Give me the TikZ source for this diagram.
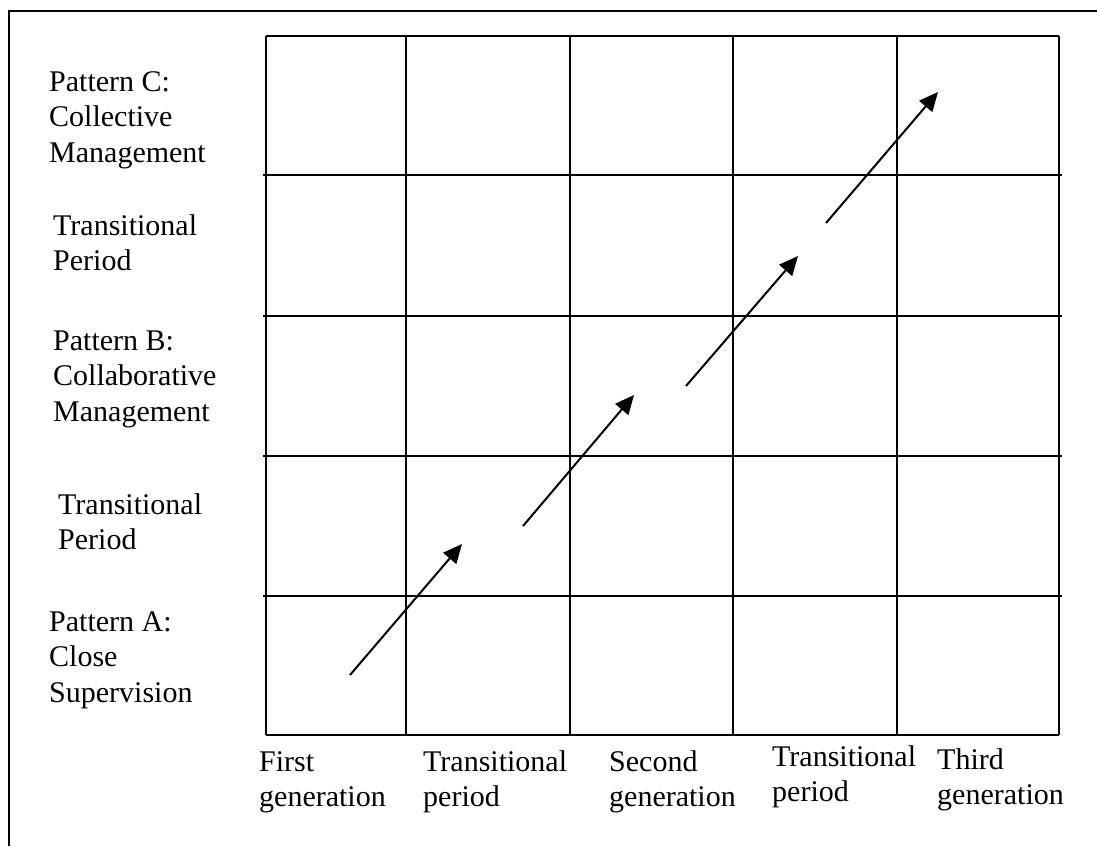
\documentclass[tikz,border=0pt]{standalone}
\usepackage{fontspec}
\setmainfont{Liberation Serif}
\usetikzlibrary{arrows.meta}
\begin{document}
\begin{tikzpicture}[x=1pt,y=-1pt,
  rule/.style={line width=2pt, black},
  txt/.style={anchor=north west, inner sep=0pt, align=left, yshift=24.85pt,
    font=\fontsize{30}{35.5}\selectfont},
  trend/.style={line width=2pt, -{Triangle[length=19pt,width=17pt]}},
]
\useasboundingbox (0,0) rectangle (1097,846);

% outer frame
\draw[rule] (9,846) -- (9,11) -- (1097,11);

% grid: columns and rows
\foreach \x in {266,406,570,733,897,1059}
  \draw[rule] (\x,36) -- (\x,735);
\draw[rule] (266,36) -- (1059,36);
\draw[rule] (266,735) -- (1059,735);
\foreach \y in {175,316,456,596}
  \draw[rule] (263,\y) -- (1062,\y);

% row labels
\node[txt] (pc) at (49,91)  {\strut Pattern C:\\Collective\\Management};
\node[txt] (t2) at (53,235) {\strut Transitional\\Period};
\node[txt] (pb) at (53,350) {\strut Pattern B:\\Collaborative\\Management};
\node[txt] (t1) at (58,514) {\strut Transitional\\Period};
\node[txt] (pa) at (49,631) {\strut Pattern A:\\Close\\Supervision};

% column labels
\node[txt] (g1) at (259,771) {\strut First\\generation};
\node[txt] (p1) at (423,771) {\strut Transitional\\period};
\node[txt] (g2) at (609,771) {\strut Second\\generation};
\node[txt] (p2) at (772,766) {\strut Transitional\\period};
\node[txt] (g3) at (937,769) {\strut Third\\generation};

% progression arrows
\coordinate (s1) at (350,675); \coordinate (e1) at (462,544);
\coordinate (s2) at (523,526); \coordinate (e2) at (634,395);
\coordinate (s3) at (686,386); \coordinate (e3) at (798,256);
\coordinate (s4) at (826,223); \coordinate (e4) at (938,92);
\draw[trend] (s1) -- (e1);
\draw[trend] (s2) -- (e2);
\draw[trend] (s3) -- (e3);
\draw[trend] (s4) -- (e4);
\end{tikzpicture}
\end{document}
